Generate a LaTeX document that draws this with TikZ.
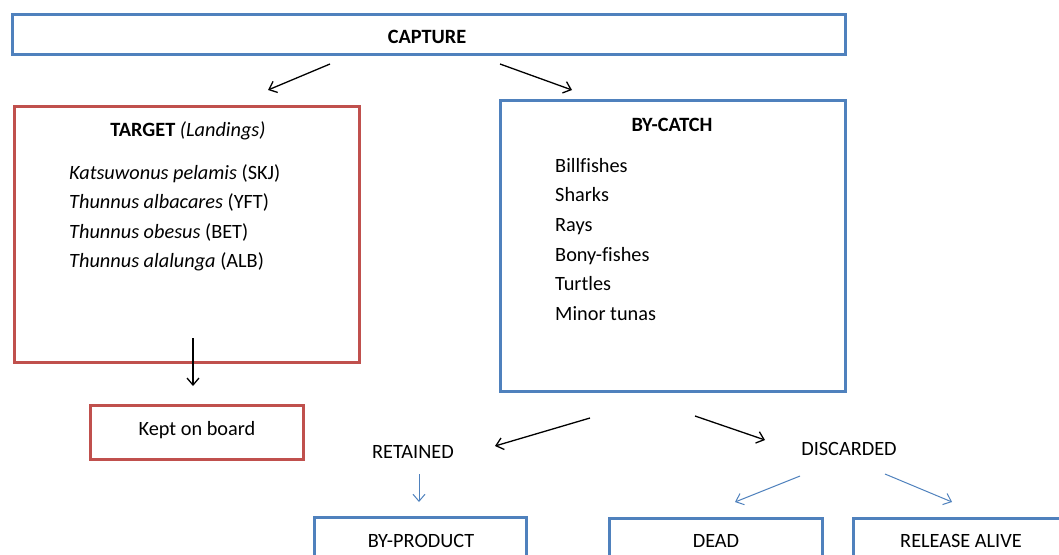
\documentclass[tikz,border=0pt]{standalone}
\usepackage{fontspec}
\setmainfont{Carlito}[Ligatures=NoCommon]
\usetikzlibrary{arrows.meta}
\definecolor{boxblue}{HTML}{4F81BD}
\definecolor{boxred}{HTML}{C0504D}

\begin{document}
\begin{tikzpicture}[x=1pt, y=-1pt,
    font=\fontsize{20.3}{29.6}\selectfont,
    bluebox/.style ={draw=boxblue, line width=3pt, inner sep=0pt},
    redbox/.style ={draw=boxred, line width=3pt, inner sep=0pt},
    flow/.style ={-{Straight Barb[length=7pt,width=12pt]}, line width=1.3pt},
    subflow/.style ={flow, draw=boxblue, line width=1pt}]
   \useasboundingbox (0,0) rectangle (1059,554);
   % boxes
   \node[bluebox, minimum width=833pt, minimum height=40pt] (capture) at (428.5,34) {};
   \node[redbox, minimum width=345pt, minimum height=256pt] (target) at (186.5,234) {};
   \node[bluebox, minimum width=345pt, minimum height=291pt] (bycatch) at (672.5,245.5) {};
   \node[redbox, minimum width=213pt, minimum height=54pt] (kept) at (196.5,432) {};
   \node[bluebox, minimum width=212pt, minimum height=54pt] (byproduct) at (420,544) {};
   \node[bluebox, minimum width=213pt, minimum height=54pt] (dead) at (715.5,545) {};
   \node[bluebox, minimum width=213pt, minimum height=54pt] (alive) at (959.5,545) {};
   % texts
   \node (capturetext) at (427,37) {\textbf{CAPTURE}};
   \node (targettitle) at (188,131) {\textbf{TARGET} \textit{(Landings)}};
   \node[anchor=north west, inner sep=0pt, align=left] (targetlist) at (69,164)
      {\textit{Katsuwonus pelamis} (SKJ)\\ \textit{Thunnus albacares} (YFT)\\
       \textit{Thunnus obesus} (BET)\\ \textit{Thunnus alalunga} (ALB)};
   \node (bycatchtitle) at (672,125) {\textbf{BY-CATCH}};
   \node[anchor=north west, inner sep=0pt, align=left] (bycatchlist) at (555,158)
      {Billfishes\\ Sharks\\ Rays\\ Bony-fishes\\ Turtles\\ Minor tunas};
   \node (keptext) at (197,430) {Kept on board};
   \node (retained) at (413,452) {RETAINED};
   \node (discarded) at (849,449) {DISCARDED};
   \node (byproducttext) at (421,541) {BY-PRODUCT};
   \node (deadtext) at (716,541) {DEAD};
   \node (alivetext) at (961,541) {RELEASE ALIVE};
   % arrow ends
   \coordinate (a1) at (330,64);  \coordinate (a2) at (268,90);
   \coordinate (b1) at (500,64);  \coordinate (b2) at (572,90);
   \coordinate (c1) at (193,338); \coordinate (c2) at (193,386);
   \coordinate (d1) at (590,418); \coordinate (d2) at (495,446);
   \coordinate (e1) at (695,416); \coordinate (e2) at (765,440);
   \coordinate (f1) at (419,474); \coordinate (f2) at (419,502);
   \coordinate (g1) at (800,476); \coordinate (g2) at (735,502);
   \coordinate (h1) at (885,474); \coordinate (h2) at (952,502);
   \draw[flow] (a1) to (a2);
   \draw[flow] (b1) to (b2);
   \draw[flow] (c1) to (c2);
   \draw[flow] (d1) to (d2);
   \draw[flow] (e1) to (e2);
   \draw[subflow] (f1) to (f2);
   \draw[subflow] (g1) to (g2);
   \draw[subflow] (h1) to (h2);
\end{tikzpicture}
\end{document}
